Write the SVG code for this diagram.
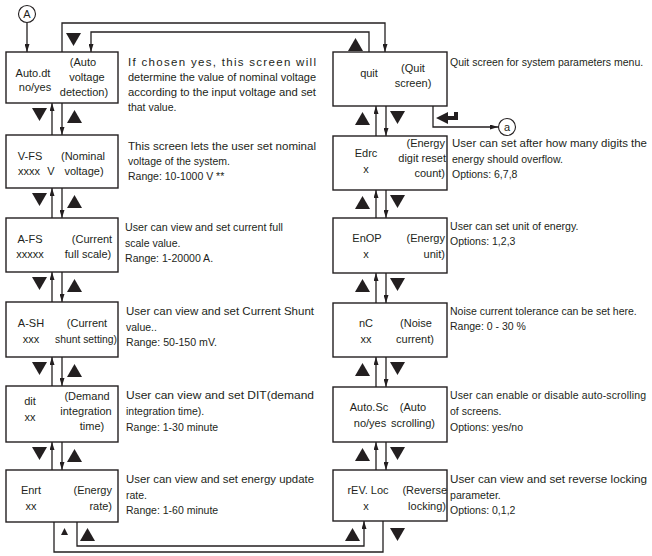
<svg xmlns="http://www.w3.org/2000/svg" xmlns:xlink="http://www.w3.org/1999/xlink" width="652" height="556" viewBox="0 0 652 556">
<style>
.box{fill:#fff;stroke:#231f20;stroke-width:1.4}
.ln{fill:none;stroke:#231f20;stroke-width:1.3}
.tri{fill:#231f20}
text{font-family:"Liberation Sans",Arial,sans-serif;font-size:11px;fill:#231f20}
.d{font-size:11.5px}
.s{font-size:10.5px}
.m{text-anchor:middle}
.e{text-anchor:end}
</style>
<defs>
<marker id="ah" viewBox="0 0 8 5" refX="8" refY="2.5" markerWidth="8" markerHeight="5" orient="auto" markerUnits="userSpaceOnUse"><path d="M0,0 L8,2.5 L0,5 Z" fill="#231f20"/></marker>
<path id="tdn" d="M0,0 H15 L7.5,13 Z"/>
<path id="tup" d="M7.5,0 L15,13 H0 Z"/>
</defs>
<rect width="652" height="556" fill="#fff"/>

<g id="connectors">
<path class="ln" d="M27,23 V52" marker-end="url(#ah)"/>
<path class="ln" d="M62,52 V23 H385 V52" marker-end="url(#ah)"/>
<path class="ln" d="M369,52 V32 H91 V52" marker-end="url(#ah)"/>
<use href="#tdn" class="tri" x="66" y="33"/>
<use href="#tup" class="tri" x="348" y="38"/>
<path class="ln" d="M52,135 V103" marker-end="url(#ah)"/><path class="ln" d="M62,103 V135" marker-end="url(#ah)"/>
<use href="#tdn" class="tri" x="32" y="108"/><use href="#tup" class="tri" x="67" y="110"/>
<path class="ln" d="M52,218 V188" marker-end="url(#ah)"/><path class="ln" d="M62,188 V218" marker-end="url(#ah)"/>
<use href="#tdn" class="tri" x="32" y="193"/><use href="#tup" class="tri" x="67" y="195"/>
<path class="ln" d="M52,302 V272" marker-end="url(#ah)"/><path class="ln" d="M62,272 V302" marker-end="url(#ah)"/>
<use href="#tdn" class="tri" x="32" y="277"/><use href="#tup" class="tri" x="67" y="279"/>
<path class="ln" d="M52,386 V357" marker-end="url(#ah)"/><path class="ln" d="M62,357 V386" marker-end="url(#ah)"/>
<use href="#tdn" class="tri" x="32" y="362"/><use href="#tup" class="tri" x="67" y="364"/>
<path class="ln" d="M52,470 V442" marker-end="url(#ah)"/><path class="ln" d="M62,442 V470" marker-end="url(#ah)"/>
<use href="#tdn" class="tri" x="32" y="447"/><use href="#tup" class="tri" x="67" y="449"/>
<path class="ln" d="M376,136 V106" marker-end="url(#ah)"/><path class="ln" d="M386,106 V136" marker-end="url(#ah)"/>
<use href="#tup" class="tri" x="355" y="112"/><use href="#tdn" class="tri" x="390" y="111"/>
<path class="ln" d="M376,218 V190" marker-end="url(#ah)"/><path class="ln" d="M386,190 V218" marker-end="url(#ah)"/>
<use href="#tup" class="tri" x="355" y="196"/><use href="#tdn" class="tri" x="390" y="195"/>
<path class="ln" d="M376,303 V273" marker-end="url(#ah)"/><path class="ln" d="M386,273 V303" marker-end="url(#ah)"/>
<use href="#tup" class="tri" x="355" y="279"/><use href="#tdn" class="tri" x="390" y="278"/>
<path class="ln" d="M376,387 V357" marker-end="url(#ah)"/><path class="ln" d="M386,357 V387" marker-end="url(#ah)"/>
<use href="#tup" class="tri" x="355" y="363"/><use href="#tdn" class="tri" x="390" y="362"/>
<path class="ln" d="M376,470 V442" marker-end="url(#ah)"/><path class="ln" d="M386,442 V470" marker-end="url(#ah)"/>
<use href="#tup" class="tri" x="355" y="448"/><use href="#tdn" class="tri" x="390" y="447"/>
<path class="ln" d="M77,522 V546 H364 V521" marker-end="url(#ah)"/>
<path class="ln" d="M383,521 V552 H54 V522"/>
<path class="tri" d="M61,535 L64.5,528 L68,535 Z"/>
<use href="#tup" class="tri" x="80" y="528"/>
<use href="#tup" class="tri" x="345" y="528"/>
<use href="#tdn" class="tri" x="390" y="528"/>
<path class="ln" d="M433,106 V127 H498" marker-end="url(#ah)"/>
<path class="tri" d="M436,118 L448,112 V116 H454 V112 H458 V120 H448 V124 Z"/>
</g>

<g id="conn-A">
<circle cx="27" cy="14" r="8.5" fill="#fff" stroke="#231f20" stroke-width="1.1"/>
<text class="m" x="27" y="18">A</text>
</g>
<g id="conn-a">
<circle cx="507" cy="127" r="8.5" fill="#fff" stroke="#231f20" stroke-width="1.1"/>
<text class="m" x="507" y="131">a</text>
</g>

<g id="auto-dt">
<rect class="box" x="6" y="52" width="112" height="51"/>
<text class="m" x="33" y="77">Auto.dt</text>
<text class="m" x="35" y="91">no/yes</text>
<text class="m" x="83" y="66">(Auto</text>
<text class="m" x="87" y="81">voltage</text>
<text class="m" x="84" y="96">detection)</text>
<text class="d" x="128" y="66" textLength="188" lengthAdjust="spacing">If chosen yes, this screen will</text>
<text class="d" x="128" y="81" textLength="188" lengthAdjust="spacingAndGlyphs">determine the value of nominal voltage</text>
<text class="d" x="128" y="96" textLength="188" lengthAdjust="spacingAndGlyphs">according to the input voltage and set</text>
<text class="d" x="128" y="111" textLength="48.4" lengthAdjust="spacingAndGlyphs">that value.</text>
</g>

<g id="v-fs">
<rect class="box" x="6" y="135" width="112" height="53"/>
<text class="m" x="30" y="160">V-FS</text>
<text class="m" x="29" y="175">xxxx</text>
<text class="m" x="51" y="175">V</text>
<text class="m" x="83" y="160">(Nominal</text>
<text class="m" x="84" y="175">voltage)</text>
<text class="d" x="128" y="150" textLength="188" lengthAdjust="spacingAndGlyphs">This screen lets the user set nominal</text>
<text class="d" x="128" y="165" textLength="102" lengthAdjust="spacingAndGlyphs">voltage of the system.</text>
<text class="d" x="128" y="180" textLength="96.3" lengthAdjust="spacingAndGlyphs">Range: 10-1000 V **</text>
</g>

<g id="a-fs">
<rect class="box" x="6" y="218" width="112" height="54"/>
<text class="m" x="30" y="243">A-FS</text>
<text class="m" x="30" y="258">xxxxx</text>
<text class="m" x="92" y="243">(Current</text>
<text class="m" x="88" y="258">full scale)</text>
<text class="d" x="125" y="231" textLength="158" lengthAdjust="spacingAndGlyphs">User can view and set current full</text>
<text class="d" x="125" y="247" textLength="55.4" lengthAdjust="spacingAndGlyphs">scale value.</text>
<text class="d" x="125" y="262" textLength="88.1" lengthAdjust="spacingAndGlyphs">Range: 1-20000 A.</text>
</g>

<g id="a-sh">
<rect class="box" x="6" y="302" width="112" height="55"/>
<text class="m" x="31" y="327">A-SH</text>
<text class="m" x="31" y="343">xxx</text>
<text class="m" x="87" y="327">(Current</text>
<text class="m" x="86" y="343" textLength="62" lengthAdjust="spacingAndGlyphs">shunt setting)</text>
<text class="d" x="126" y="315" textLength="188" lengthAdjust="spacingAndGlyphs">User can view and set Current Shunt</text>
<text class="d" x="126" y="331" textLength="30.9" lengthAdjust="spacingAndGlyphs">value..</text>
<text class="d" x="126" y="346" textLength="91" lengthAdjust="spacingAndGlyphs">Range: 50-150 mV.</text>
</g>

<g id="dit">
<rect class="box" x="6" y="386" width="112" height="56"/>
<text class="m" x="30" y="405">dit</text>
<text class="m" x="30" y="421">xx</text>
<text class="m" x="87" y="400">(Demand</text>
<text class="m" x="86" y="415">integration</text>
<text class="m" x="92" y="430">time)</text>
<text class="d" x="126" y="399" textLength="188" lengthAdjust="spacingAndGlyphs">User can view and set DIT(demand</text>
<text class="d" x="126" y="415" textLength="78.2" lengthAdjust="spacingAndGlyphs">integration time).</text>
<text class="d" x="126" y="431" textLength="92.2" lengthAdjust="spacingAndGlyphs">Range: 1-30 minute</text>
</g>

<g id="enrt">
<rect class="box" x="6" y="470" width="112" height="52"/>
<text class="m" x="31" y="494">Enrt</text>
<text class="m" x="31" y="510">xx</text>
<text class="e" x="112" y="494">(Energy</text>
<text class="e" x="112" y="510">rate)</text>
<text class="d" x="126" y="483" textLength="188" lengthAdjust="spacingAndGlyphs">User can view and set energy update</text>
<text class="d" x="126" y="499" textLength="21" lengthAdjust="spacingAndGlyphs">rate.</text>
<text class="d" x="126" y="514" textLength="92.2" lengthAdjust="spacingAndGlyphs">Range: 1-60 minute</text>
</g>

<g id="quit">
<rect class="box" x="333" y="52" width="114" height="54"/>
<text class="m" x="369" y="77">quit</text>
<text class="m" x="413" y="72">(Quit</text>
<text class="m" x="413" y="87">screen)</text>
<text class="s" x="450" y="66">Quit screen for system parameters menu.</text>
</g>

<g id="edrc">
<rect class="box" x="333" y="136" width="114" height="54"/>
<text class="m" x="366" y="157">Edrc</text>
<text class="m" x="366" y="173">x</text>
<text class="e" x="445" y="147">(Energy</text>
<text class="e" x="446" y="162">digit reset</text>
<text class="e" x="445" y="177">count)</text>
<text class="d" x="452" y="147" textLength="195" lengthAdjust="spacingAndGlyphs">User can set after how many digits the</text>
<text class="d" x="452" y="163" textLength="110.9" lengthAdjust="spacingAndGlyphs">energy should overflow.</text>
<text class="d" x="452" y="178" textLength="65.4" lengthAdjust="spacingAndGlyphs">Options: 6,7,8</text>
</g>

<g id="enop">
<rect class="box" x="333" y="218" width="114" height="55"/>
<text class="m" x="367" y="242">EnOP</text>
<text class="m" x="366" y="258">x</text>
<text class="e" x="445" y="242">(Energy</text>
<text class="e" x="445" y="258">unit)</text>
<text class="d" x="450" y="230" textLength="128.4" lengthAdjust="spacingAndGlyphs">User can set unit of energy.</text>
<text class="d" x="450" y="245" textLength="65.4" lengthAdjust="spacingAndGlyphs">Options: 1,2,3</text>
</g>

<g id="nc">
<rect class="box" x="333" y="303" width="114" height="54"/>
<text class="m" x="366" y="327">nC</text>
<text class="m" x="366" y="343">xx</text>
<text class="m" x="416" y="327">(Noise</text>
<text class="m" x="415" y="343">current)</text>
<text class="s" x="450" y="315">Noise current tolerance can be set here.</text>
<text class="d" x="450" y="330" textLength="75.9" lengthAdjust="spacingAndGlyphs">Range: 0 - 30 %</text>
</g>

<g id="auto-sc">
<rect class="box" x="333" y="387" width="114" height="55"/>
<text class="m" x="369" y="411">Auto.Sc</text>
<text class="m" x="370" y="427">no/yes</text>
<text class="m" x="413" y="411">(Auto</text>
<text class="m" x="413" y="427">scrolling)</text>
<text class="s" x="450" y="399" textLength="196" lengthAdjust="spacing">User can enable or disable auto-scrolling</text>
<text class="d" x="450" y="415" textLength="51.4" lengthAdjust="spacingAndGlyphs">of screens.</text>
<text class="d" x="450" y="431" textLength="73" lengthAdjust="spacingAndGlyphs">Options: yes/no</text>
</g>

<g id="rev-loc">
<rect class="box" x="333" y="470" width="114" height="51"/>
<text class="m" x="368" y="494">rEV. Loc</text>
<text class="m" x="366" y="510">x</text>
<text class="e" x="447" y="494">(Reverse</text>
<text class="e" x="446" y="510">locking)</text>
<text class="d" x="450" y="483" textLength="197" lengthAdjust="spacingAndGlyphs">User can view and set reverse locking</text>
<text class="d" x="450" y="499" textLength="50.8" lengthAdjust="spacingAndGlyphs">parameter.</text>
<text class="d" x="450" y="514" textLength="65.4" lengthAdjust="spacingAndGlyphs">Options: 0,1,2</text>
</g>
</svg>
